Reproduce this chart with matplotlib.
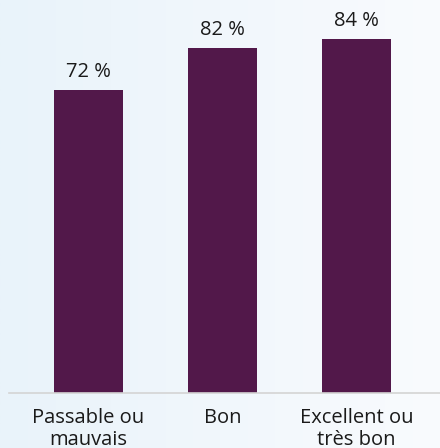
import numpy as np
import matplotlib.pyplot as plt
from matplotlib.colors import LinearSegmentedColormap

categories = ["Passable ou\nmauvais", "Bon", "Excellent ou\ntrès bon"]
values = [72, 82, 84]
value_labels = ["72 %", "82 %", "84 %"]

plt.rcParams['font.family'] = ['Open Sans', 'DejaVu Sans']

fig = plt.figure(figsize=(4.4, 4.48), dpi=100)

# soft blue-to-white background
bg = fig.add_axes([0, 0, 1, 1], zorder=0)
grad = np.linspace(0, 1, 256).reshape(1, -1)
cmap = LinearSegmentedColormap.from_list('bg', ['#e9f3fa', '#f9fbfe'])
bg.imshow(grad, aspect='auto', cmap=cmap, extent=[0, 1, 0, 1])
bg.set_axis_off()

ax = fig.add_axes([9 / 440, 55 / 448, 431 / 440, 393 / 448], zorder=1)
ax.patch.set_alpha(0)

x = np.arange(len(categories))
ax.bar(x, values, width=0.515, color='#52184a')
for xi, v, lab in zip(x, values, value_labels):
    ax.text(xi, v + 3.1, lab, ha='center', va='baseline', fontsize=14.5, color='#1a1a1a')

ax.set_xlim(-0.593, 2.623)
ax.set_ylim(0, 93.3)
ax.set_xticks(x)
ax.set_xticklabels(categories, fontsize=14.5, color='#1a1a1a', linespacing=1.1)
ax.tick_params(axis='x', length=0, pad=11)
ax.set_yticks([])
for side in ['top', 'right', 'left']:
    ax.spines[side].set_visible(False)
ax.spines['bottom'].set_color('#d4d4d4')
ax.spines['bottom'].set_linewidth(1.2)

fig.savefig('out.png', dpi=100)
